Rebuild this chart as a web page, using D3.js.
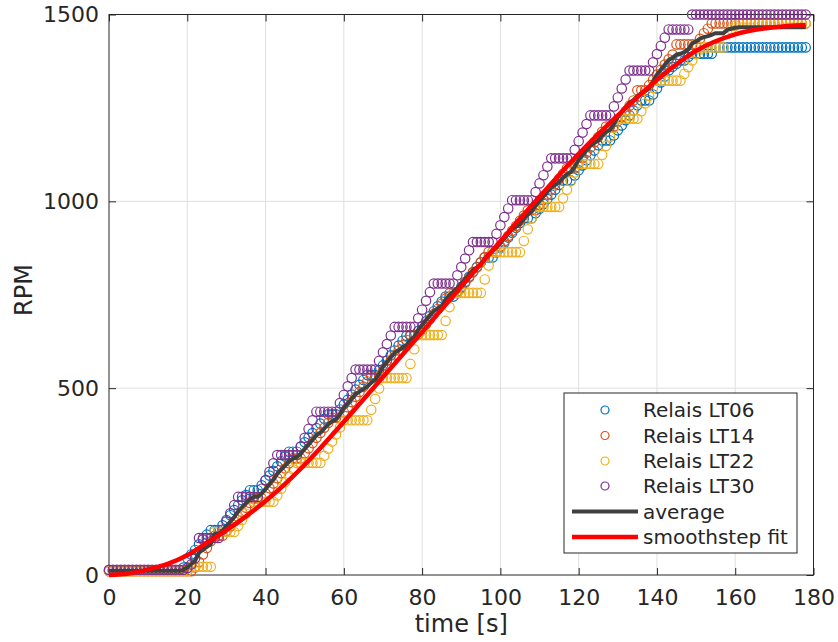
<!DOCTYPE html>
<html>
<head>
<meta charset="utf-8">
<script src="https://cdn.jsdelivr.net/npm/d3@7"></script>
<style>
  body { margin: 0; background: #fff; }
  svg text { font-family: "DejaVu Sans", sans-serif; fill: #262626; }
</style>
</head>
<body>
<div id="chart"></div>
<script>
//==============================================================================
//  data (RPM sampled once per second)
//==============================================================================

var time = d3.range(0, 179);

var relaisLT06 = [12,12,12,12,12,12,12,12,12,12,12,12,12,12,12,12,12,12,12,
  20,45,55,67,82,95,108,
  120,120,120, 133,147,160,174,187,200,214,
  227,227,227, 240,253,266,279,291,304,317,
  330,330,330, 343,355,368,380,393,405,418,
  430,430,430, 443,456,469,483,496,509,522,
  535,535,535, 548,561,574,588,601,614,627,
  640,640,640, 653,666,679,693,706,719,732,
  745,745,745, 758,771,784,798,811,824,837,
  850,850,850, 863,876,889,903,916,929,942,
  955,955,955, 968,980,993,1006,1018,1031,1044,
  1056,1056,1056, 1069,1083,1096,1110,1123,1136,1150,
  1163,1163,1163, 1176,1190,1203,1217,1230,1243,1257,
  1270,1270,1270,
  1286,1302,1318,1334,1350,1360,1368,1377,1377,1386,
  1395,1395,1395,1395,1395,1395,
  1412,1412,1412,1412,1412,1412,1412,1412,1412,1412,1412,1412,
  1412,1412,1412,1412,1412,1412,1412,1412,1412,1412,1412,1412];

var relaisLT14 = [10,10,10,10,10,10,10,10,10,10,10,10,10,10,10,10,10,10,10,10,10,10,
  20,35,55,72,90,
  105,105,105, 118,130,143,155,168,180,193,
  205,205,205, 218,232,245,259,272,285,299,
  312,312,312, 326,339,353,367,380,394,407,
  421,421,421, 435,449,463,477,490,504,518,
  532,532,532, 546,560,574,588,601,615,629,
  643,643,643, 657,671,685,699,712,726,740,
  754,754,754, 768,782,796,810,823,837,851,
  865,865,865, 879,893,907,921,934,948,962,
  976,976,976, 990,1004,1018,1032,1046,1060,1074,
  1088,1088,1088, 1102,1116,1130,1144,1158,1172,1186,
  1200,1200,1200, 1214,1228,1242,1256,1270,
  1297,1297,1297, 1311,1325,1339,1352,1366,1380,1393,
  1420,1420,1420,1420,1420,1420, 1435,1450,1462,
  1476,1476,1476,1476,1476,1476,1476,1476,1476,1476,1476,1476,1476,
  1476,1476,1476,1476,1476,1476,1476,1476,1476,1476,1476,1476];

var relaisLT22 = [10,10,10,10,10,10,10,10,10,10,10,10,10,10,10,10,10,10,10,10,10,
  22,22,22,22,22,22,
  115,115,115,115,115,115, 131,147,164,180,
  196,196,196,196,196,196, 213,231,248,265,283,
  300,300,300,300,300,300,300, 319,338,357,376,395,
  414,414,414,414,414,414,414, 442,471,499,
  527,527,527,527,527,527,527, 565,604,
  642,642,642,642,642,642,642, 680,717,
  755,755,755,755,755,755,755,755, 791,828,
  864,864,864,864,864,864,864,864, 894,925,955,
  985,985,985,985,985,985,985, 1008,1031,1054,1077,
  1100,1100,1100,1100,1100,1100, 1124,1148,1173,1197,
  1221,1221,1221,1221,1221,1221, 1241,1262,1282,1303,
  1323,1323,1323,1323,1323,1323,1323, 1341,1359,1377,1394,
  1412,1412,1412,1412,1412,1412,1412, 1449,1460,1470,
  1476,1476,1476,1476,1476,1476,1476,1476,1476,
  1476,1476,1476,1476,1476,1476,1476,1476,1476];

var relaisLT30 = [14,14,14,14,14,14,14,14,14,14,14,14,14,14,14,14,14,14,14,14,
  18,28,45,
  99,99,99,99,99,99, 121,143,165,187,
  209,209,209,209,209,209, 231,254,276,299,
  321,321,321,321,321,321, 344,367,391,414,
  437,437,437,437,437,437, 460,482,505,527,
  550,550,550,550,550,550, 573,596,618,641,
  664,664,664,664,664,664, 687,710,734,757,
  780,780,780,780,780,780, 802,824,847,869,
  891,891,891,891,891,891, 913,936,958,981,
  1003,1003,1003,1003,1003,1003, 1025,1048,1070,1093,
  1115,1115,1115,1115,1115,1115, 1138,1161,1184,1207,
  1230,1230,1230,1230,1230,1230, 1254,1278,1302,1326,
  1350,1350,1350,1350,1350,1350, 1372,1394,1416,1438,
  1460,1460,1460,1460,1460,1460,
  1500,1500,1500,1500,1500,1500,1500,1500,1500,1500,1500,1500,1500,1500,1500,
  1500,1500,1500,1500,1500,1500,1500,1500,1500,1500,1500,1500,1500,1500,1500];

// smoothstep fit
var fitTime = [0, 5, 10, 15, 20, 25, 30, 35, 40, 45, 50, 60, 70, 80, 90, 100,
               110, 120, 130, 140, 150, 160, 170, 178];
var fitRPM  = [0, 4, 15, 30, 53, 86, 120, 157, 198, 244, 295, 410, 530, 650,
               772, 893, 1012, 1127, 1230, 1325, 1403, 1447, 1466, 1472];

var seriesNames = ["Relais LT06", "Relais LT14", "Relais LT22", "Relais LT30"];
var seriesValues = [relaisLT06, relaisLT14, relaisLT22, relaisLT30];
var seriesColors = ["#0072bd", "#d95319", "#edb120", "#7e2f8e"];

var xTicks = [0, 20, 40, 60, 80, 100, 120, 140, 160, 180];
var yTicks = [0, 500, 1000, 1500];

//==============================================================================
//  layout
//==============================================================================

var W = 838, H = 642;
var plot = { left: 109, right: 813.5, top: 14.5, bottom: 575 };
var tickLen = 7;

var x = d3.scaleLinear().domain([0, 180]).range([plot.left, plot.right]);
var y = d3.scaleLinear().domain([0, 1500]).range([plot.bottom, plot.top]);

var svg = d3.select("#chart").append("svg")
  .attr("width", W).attr("height", H);

// grid
var grid = svg.append("g").attr("stroke", "#dfdfdf").attr("stroke-width", 1);
grid.selectAll("line.gx").data(xTicks.slice(1, -1)).enter().append("line")
  .attr("x1", x).attr("x2", x).attr("y1", plot.top).attr("y2", plot.bottom);
grid.selectAll("line.gy").data(yTicks.slice(1, -1)).enter().append("line")
  .attr("y1", y).attr("y2", y).attr("x1", plot.left).attr("x2", plot.right);

// axes (ticks point inward on all four sides)
function styleAxis(g) {
  g.select(".domain").remove();
  g.selectAll(".tick line").attr("stroke", "#262626");
  g.selectAll(".tick text").attr("fill", "#262626")
    .style("font-family", "DejaVu Sans").style("font-size", "22px");
}
svg.append("g").attr("transform", "translate(0," + plot.bottom + ")")
  .call(d3.axisBottom(x).tickValues(xTicks).tickSize(-tickLen).tickPadding(14.5)
    .tickFormat(d3.format("d")))
  .call(styleAxis);
svg.append("g").attr("transform", "translate(0," + plot.top + ")")
  .call(d3.axisTop(x).tickValues(xTicks).tickSize(-tickLen).tickFormat(""))
  .call(styleAxis);
svg.append("g").attr("transform", "translate(" + plot.left + ",0)")
  .call(d3.axisLeft(y).tickValues(yTicks).tickSize(-tickLen).tickPadding(10)
    .tickFormat(d3.format("d")))
  .call(styleAxis);
svg.append("g").attr("transform", "translate(" + plot.right + ",0)")
  .call(d3.axisRight(y).tickValues(yTicks).tickSize(-tickLen).tickFormat(""))
  .call(styleAxis);

svg.append("rect")
  .attr("x", plot.left).attr("y", plot.top)
  .attr("width", plot.right - plot.left).attr("height", plot.bottom - plot.top)
  .attr("fill", "none").attr("stroke", "#262626").attr("stroke-width", 1);

// axis labels
svg.append("text").attr("x", (plot.left + plot.right) / 2).attr("y", 632)
  .attr("text-anchor", "middle").style("font-size", "24px").text("time [s]");
svg.append("text").attr("transform", "translate(32,290) rotate(-90)")
  .attr("text-anchor", "middle").style("font-size", "24px").text("RPM");

//==============================================================================
//  marks
//==============================================================================

var markerR = 4.7;
seriesValues.forEach(function(vals, k) {
  svg.append("g").selectAll("circle").data(vals).enter().append("circle")
    .attr("cx", function(d, i) { return x(time[i]); })
    .attr("cy", function(d) { return y(d); })
    .attr("r", markerR)
    .attr("fill", "none")
    .attr("stroke", seriesColors[k])
    .attr("stroke-width", 1.2);
});

// average of the four relays
var average = time.map(function(t, i) {
  return d3.mean(seriesValues, function(s) { return s[i]; });
});

svg.append("path").datum(average)
  .attr("fill", "none").attr("stroke", "#404040").attr("stroke-width", 4)
  .attr("stroke-linejoin", "round")
  .attr("d", d3.line().x(function(d, i) { return x(time[i]); }).y(y));

svg.append("path").datum(fitRPM)
  .attr("fill", "none").attr("stroke", "#ff0000").attr("stroke-width", 4.5)
  .attr("d", d3.line().curve(d3.curveMonotoneX)
    .x(function(d, i) { return x(fitTime[i]); }).y(y));

//==============================================================================
//  legend
//==============================================================================

var legend = svg.append("g").attr("transform", "translate(564,393)");
legend.append("rect").attr("width", 233).attr("height", 160)
  .attr("fill", "#fff").attr("stroke", "#262626").attr("stroke-width", 1);

var rowY = [17, 42.5, 68, 93, 118.5, 144];
var entries = seriesNames.map(function(n, k) {
  return { name: n, color: seriesColors[k], kind: "marker" };
}).concat([
  { name: "average", color: "#404040", kind: "line", width: 4 },
  { name: "smoothstep fit", color: "#ff0000", kind: "line", width: 4.5 }
]);

var rows = legend.selectAll("g.row").data(entries).enter().append("g")
  .attr("transform", function(d, i) { return "translate(0," + rowY[i] + ")"; });

rows.filter(function(d) { return d.kind === "marker"; }).append("circle")
  .attr("cx", 41).attr("cy", 0).attr("r", 4)
  .attr("fill", "none").attr("stroke", function(d) { return d.color; })
  .attr("stroke-width", 1.2);
rows.filter(function(d) { return d.kind === "line"; }).append("line")
  .attr("x1", 8).attr("x2", 74).attr("y1", 0).attr("y2", 0)
  .attr("stroke", function(d) { return d.color; })
  .attr("stroke-width", function(d) { return d.width; });
rows.append("text").attr("x", 79).attr("dy", "0.36em")
  .style("font-size", "20px").text(function(d) { return d.name; });
</script>
</body>
</html>
